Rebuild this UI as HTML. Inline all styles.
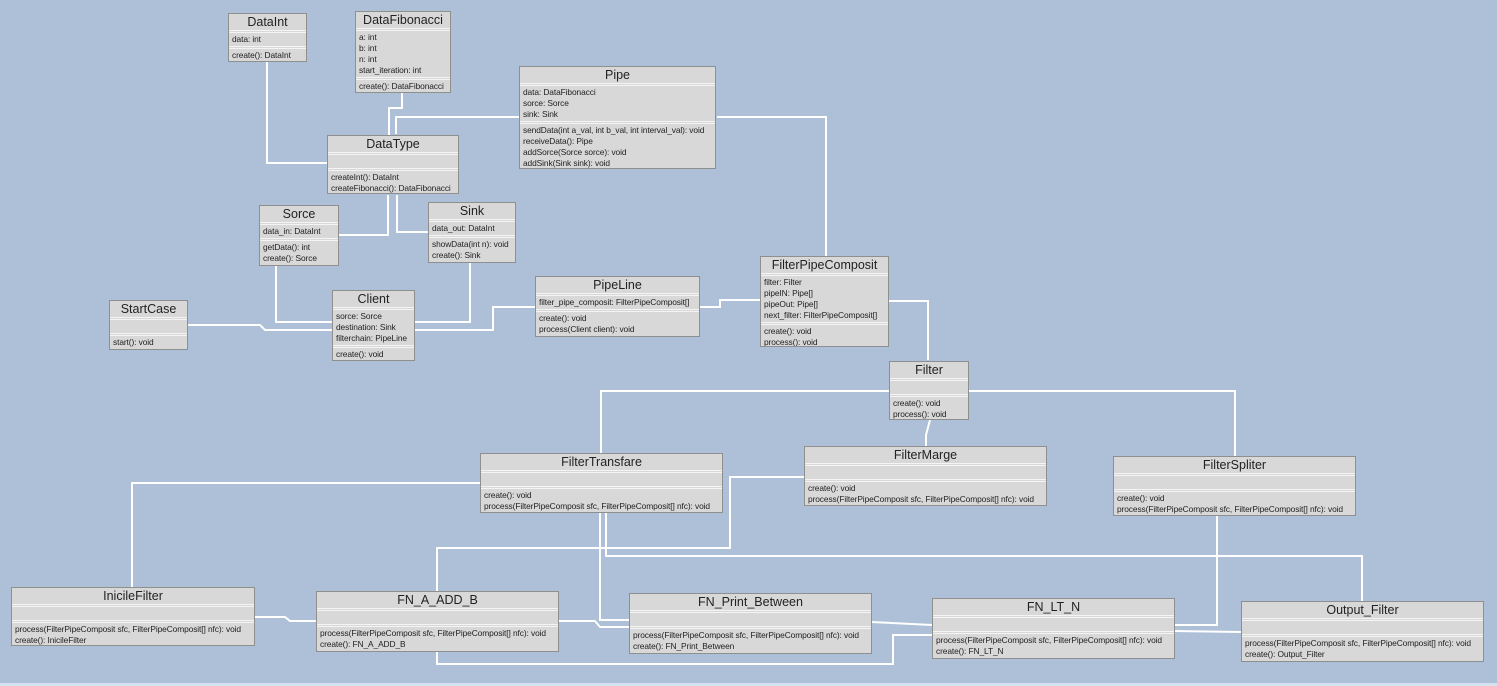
<!DOCTYPE html>
<html><head><meta charset="utf-8"><style>
body{margin:0;width:1497px;height:686px;background:#adc0d7;position:relative;overflow:hidden;font-family:"Liberation Sans",sans-serif;color:#222}
.b{position:absolute;background:#d8d8d8;border:1px solid #8f8f8f;box-sizing:border-box;overflow:hidden}
.t{height:16px;text-align:center;font-size:12.5px;line-height:16px;border-bottom:3px double #f4f4f4}
.s{font-size:8.4px;line-height:11px;padding:1px 3px;border-bottom:3px double #f4f4f4;min-height:11px;white-space:nowrap;letter-spacing:-0.1px}
.s:last-child{border-bottom:none}
svg{position:absolute;left:0;top:0}
.strip{position:absolute;left:0;top:683px;width:1497px;height:3px;background:#d6e2f0}
</style></head><body>
<svg width="1497" height="686" fill="none" stroke="#fff" stroke-width="2">
<polyline points="327,163 267,163 267,62"/>
<polyline points="389,135 389,108 402,108 402,80"/>
<polyline points="519,117 396,117 396,134"/>
<polyline points="338,235 388,235 388,195"/>
<polyline points="428,232 397,232 397,195"/>
<polyline points="332,322 276,322 276,266"/>
<polyline points="187,325 260,325 265,330 332,330"/>
<polyline points="414,322 470,322 470,263"/>
<polyline points="414,330 493,330 493,307 535,307"/>
<polyline points="699,307 720,307 720,300 760,300"/>
<polyline points="826,256 826,117 717,117"/>
<polyline points="888,301 928,301 928,360"/>
<polyline points="601,453 601,391 889,391"/>
<polyline points="926,446 926,435 930,420"/>
<polyline points="1235,456 1235,391 969,391"/>
<polyline points="132,587 132,483 480,483"/>
<polyline points="254,617 285,617 290,621 316,621"/>
<polyline points="437,591 437,548 730,548 730,477 804,477"/>
<polyline points="558,621 595,621 600,627 629,627"/>
<polyline points="629,620 600,620 600,513"/>
<polyline points="1362,601 1362,556 606,556 606,513"/>
<polyline points="871,622 932,625"/>
<polyline points="1174,631 1241,632"/>
<polyline points="1174,625 1217,625 1217,516"/>
<polyline points="932,635 893,635 893,664 437,664 437,652"/>
</svg>
<div class="b" style="left:228px;top:13px;width:79px;height:49px"><div class="t">DataInt</div><div class="s">data: int</div><div class="s">create(): DataInt</div></div>
<div class="b" style="left:355px;top:11px;width:96px;height:82px"><div class="t">DataFibonacci</div><div class="s">a: int<br>b: int<br>n: int<br>start_iteration: int</div><div class="s">create(): DataFibonacci</div></div>
<div class="b" style="left:519px;top:66px;width:197px;height:103px"><div class="t">Pipe</div><div class="s">data: DataFibonacci<br>sorce: Sorce<br>sink: Sink</div><div class="s">sendData(int a_val, int b_val, int interval_val): void<br>receiveData(): Pipe<br>addSorce(Sorce sorce): void<br>addSink(Sink sink): void</div></div>
<div class="b" style="left:327px;top:135px;width:132px;height:59px"><div class="t">DataType</div><div class="s"></div><div class="s">createInt(): DataInt<br>createFibonacci(): DataFibonacci</div></div>
<div class="b" style="left:259px;top:205px;width:80px;height:61px"><div class="t">Sorce</div><div class="s">data_in: DataInt</div><div class="s">getData(): int<br>create(): Sorce</div></div>
<div class="b" style="left:428px;top:202px;width:88px;height:61px"><div class="t">Sink</div><div class="s">data_out: DataInt</div><div class="s">showData(int n): void<br>create(): Sink</div></div>
<div class="b" style="left:109px;top:300px;width:79px;height:50px"><div class="t">StartCase</div><div class="s"></div><div class="s">start(): void</div></div>
<div class="b" style="left:332px;top:290px;width:83px;height:71px"><div class="t">Client</div><div class="s">sorce: Sorce<br>destination: Sink<br>filterchain: PipeLine</div><div class="s">create(): void</div></div>
<div class="b" style="left:535px;top:276px;width:165px;height:61px"><div class="t">PipeLine</div><div class="s">filter_pipe_composit: FilterPipeComposit[]</div><div class="s">create(): void<br>process(Client client): void</div></div>
<div class="b" style="left:760px;top:256px;width:129px;height:91px"><div class="t">FilterPipeComposit</div><div class="s">filter: Filter<br>pipeIN: Pipe[]<br>pipeOut: Pipe[]<br>next_filter: FilterPipeComposit[]</div><div class="s">create(): void<br>process(): void</div></div>
<div class="b" style="left:889px;top:361px;width:80px;height:59px"><div class="t">Filter</div><div class="s"></div><div class="s">create(): void<br>process(): void</div></div>
<div class="b" style="left:480px;top:453px;width:243px;height:60px"><div class="t">FilterTransfare</div><div class="s"></div><div class="s">create(): void<br>process(FilterPipeComposit sfc, FilterPipeComposit[] nfc): void</div></div>
<div class="b" style="left:804px;top:446px;width:243px;height:60px"><div class="t">FilterMarge</div><div class="s"></div><div class="s">create(): void<br>process(FilterPipeComposit sfc, FilterPipeComposit[] nfc): void</div></div>
<div class="b" style="left:1113px;top:456px;width:243px;height:60px"><div class="t">FilterSpliter</div><div class="s"></div><div class="s">create(): void<br>process(FilterPipeComposit sfc, FilterPipeComposit[] nfc): void</div></div>
<div class="b" style="left:11px;top:587px;width:244px;height:59px"><div class="t">InicileFilter</div><div class="s"></div><div class="s">process(FilterPipeComposit sfc, FilterPipeComposit[] nfc): void<br>create(): InicileFilter</div></div>
<div class="b" style="left:316px;top:591px;width:243px;height:61px"><div class="t">FN_A_ADD_B</div><div class="s"></div><div class="s">process(FilterPipeComposit sfc, FilterPipeComposit[] nfc): void<br>create(): FN_A_ADD_B</div></div>
<div class="b" style="left:629px;top:593px;width:243px;height:61px"><div class="t">FN_Print_Between</div><div class="s"></div><div class="s">process(FilterPipeComposit sfc, FilterPipeComposit[] nfc): void<br>create(): FN_Print_Between</div></div>
<div class="b" style="left:932px;top:598px;width:243px;height:61px"><div class="t">FN_LT_N</div><div class="s"></div><div class="s">process(FilterPipeComposit sfc, FilterPipeComposit[] nfc): void<br>create(): FN_LT_N</div></div>
<div class="b" style="left:1241px;top:601px;width:243px;height:61px"><div class="t">Output_Filter</div><div class="s"></div><div class="s">process(FilterPipeComposit sfc, FilterPipeComposit[] nfc): void<br>create(): Output_Filter</div></div>
<div class="strip"></div>
</body></html>
